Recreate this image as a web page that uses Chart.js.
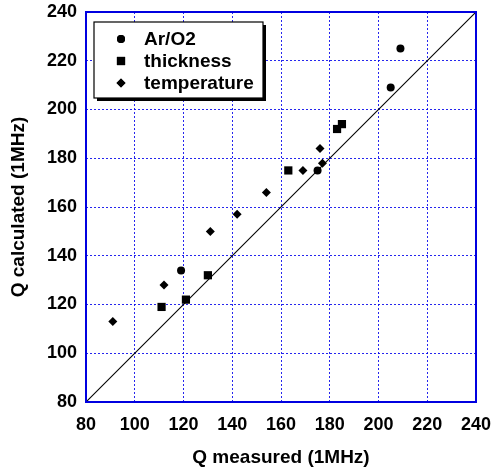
<!DOCTYPE html>
<html>
<head>
<meta charset="utf-8">
<script src="https://cdn.jsdelivr.net/npm/chart.js@4/dist/chart.umd.min.js"></script>
<style>
  html, body { margin: 0; padding: 0; background: #fff; }
  #wrap { width: 493px; height: 469px; }
</style>
</head>
<body>
<div id="wrap"><canvas id="qchart" width="493" height="469"></canvas></div>
<script>
// values
const arO2X = [119, 175, 205, 209];
const arO2Y = [134, 175, 209, 225];
const thickX = [111, 121, 130, 163, 183, 185];
const thickY = [119, 122, 132, 175, 192, 194];
const tempX = [91, 112, 131, 142, 154, 169, 176, 177];
const tempY = [113, 128, 150, 157, 166, 175, 184, 178];
const diagonal = [80, 240];
const ticks = [80, 100, 120, 140, 160, 180, 200, 220, 240];

function pts(xs, ys) {
    return xs.map((x, i) => ({ x: x, y: ys[i] }));
}

const FONT = 'Liberation Sans, Arial, sans-serif';
const gridBlue = 'rgba(0, 0, 235, 0.85)';
const frameBlue = '#0000e0';

// boxed legend with shadow, inside the plot at the top left
const boxLegend = {
    id: 'boxLegend',
    afterDatasetsDraw(chart) {
        const ctx = chart.ctx;
        const area = chart.chartArea;
        const x0 = area.left + 8, y0 = area.top + 10;
        const w = 169, h = 76;
        ctx.save();
        ctx.fillStyle = '#000';
        ctx.fillRect(x0 + 3, y0 + 3, w, h);
        ctx.fillStyle = '#fff';
        ctx.fillRect(x0, y0, w, h);
        ctx.strokeStyle = '#000';
        ctx.lineWidth = 1.2;
        ctx.strokeRect(x0, y0, w, h);
        ctx.font = 'bold 19px ' + FONT;
        ctx.textBaseline = 'middle';
        let row = 0;
        chart.data.datasets.forEach((ds) => {
            if (ds.legendHide) return;
            const cy = y0 + 17 + row * 22;
            ctx.fillStyle = '#000';
            ctx.beginPath();
            Chart.helpers.drawPoint(ctx, {
                pointStyle: ds.pointStyle,
                radius: ds.pointRadius,
                rotation: 0,
                borderWidth: 0
            }, x0 + 27, cy);
            ctx.fill();
            ctx.fillText(ds.label, x0 + 50, cy + 1);
            row++;
        });
        ctx.restore();
    }
};

// keep tick labels from pushing the plot area inward
function noEdgePad(s) {
    s.paddingLeft = 0;
    s.paddingRight = 0;
    s.paddingTop = 0;
    s.paddingBottom = 0;
}

const ctx = document.getElementById('qchart').getContext('2d');
const myChart = new Chart(ctx, {
    type: 'scatter',
    data: {
        datasets: [{
            label: 'Ar/O2',
            data: pts(arO2X, arO2Y),
            pointStyle: 'circle',
            pointRadius: 4,
            backgroundColor: '#000',
            borderColor: '#000',
            borderWidth: 0
        }, {
            label: 'thickness',
            data: pts(thickX, thickY),
            pointStyle: 'rect',
            pointRadius: 5.8,
            backgroundColor: '#000',
            borderColor: '#000',
            borderWidth: 0
        }, {
            label: 'temperature',
            data: pts(tempX, tempY),
            pointStyle: 'rectRot',
            pointRadius: 4.5,
            backgroundColor: '#000',
            borderColor: '#000',
            borderWidth: 0
        }, {
            label: 'y = x',
            legendHide: true,
            data: pts(diagonal, diagonal),
            showLine: true,
            borderColor: '#000',
            borderWidth: 1.1,
            pointRadius: 0
        }]
    },
    options: {
        responsive: false,
        animation: false,
        layout: { padding: { left: 0, right: 17, top: 12, bottom: 0 } },
        plugins: {
            legend: { display: false },
            tooltip: { enabled: false }
        },
        scales: {
            x: {
                type: 'linear',
                min: 80,
                max: 240,
                afterBuildTicks: (s) => { s.ticks = ticks.map(v => ({ value: v })); },
                afterFit: (s) => { s.height = 67; noEdgePad(s); },
                grid: {
                    color: gridBlue,
                    lineWidth: 1,
                    drawTicks: false
                },
                border: { display: false, dash: [2, 2] },
                ticks: {
                    color: '#000',
                    padding: 12,
                    maxRotation: 0,
                    font: { family: FONT, size: 18, weight: 'bold' }
                },
                title: {
                    display: true,
                    text: 'Q measured (1MHz)',
                    color: '#000',
                    padding: { top: 0, bottom: 0 },
                    font: { family: FONT, size: 19, weight: 'bold' }
                }
            },
            y: {
                type: 'linear',
                min: 80,
                max: 240,
                afterBuildTicks: (s) => { s.ticks = ticks.map(v => ({ value: v })); },
                afterFit: (s) => { s.width = 86; noEdgePad(s); },
                grid: {
                    color: gridBlue,
                    lineWidth: 1,
                    drawTicks: false
                },
                border: { display: false, dash: [2, 2] },
                ticks: {
                    color: '#000',
                    padding: 9,
                    font: { family: FONT, size: 18, weight: 'bold' }
                },
                title: {
                    display: true,
                    text: 'Q calculated (1MHz)',
                    color: '#000',
                    padding: { top: 7, bottom: 0 },
                    font: { family: FONT, size: 19, weight: 'bold' }
                }
            }
        }
    },
    plugins: [{
        // solid frame on all four sides
        id: 'frame',
        afterDatasetsDraw(chart) {
            const c = chart.ctx, a = chart.chartArea;
            c.save();
            c.strokeStyle = frameBlue;
            c.lineWidth = 2;
            c.strokeRect(a.left, a.top, a.right - a.left, a.bottom - a.top);
            c.restore();
        }
    }, boxLegend]
});
</script>
</body>
</html>
